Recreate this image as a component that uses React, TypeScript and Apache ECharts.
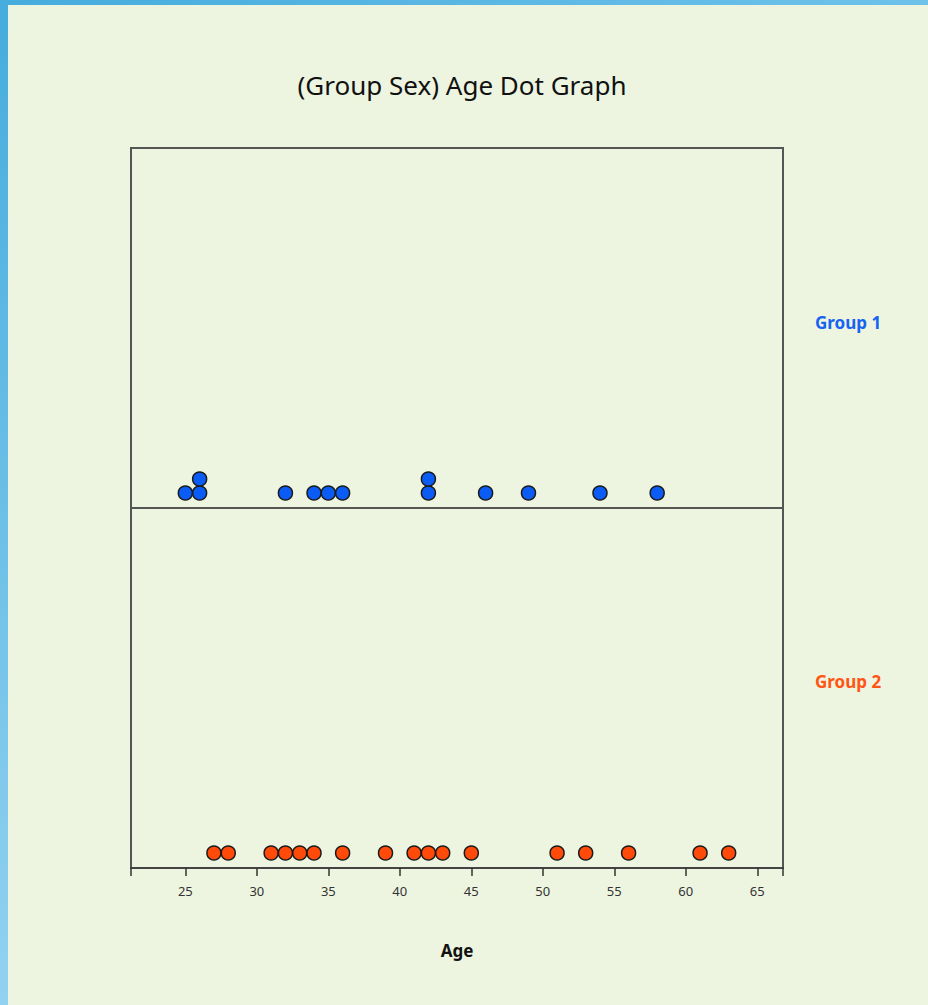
import React, { useEffect, useRef } from "react";
import * as echarts from "echarts";

const title = "(Group Sex) Age Dot Graph";
const axisName = "Age";
const groupNames = ["Group 1", "Group 2"];
const group1Ages = [25, 26, 26, 32, 34, 35, 36, 42, 42, 46, 49, 54, 58];
const group2Ages = [27, 28, 31, 32, 33, 34, 36, 39, 41, 42, 43, 45, 51, 53, 56, 61, 63];
const tickLabels = [25, 30, 35, 40, 45, 50, 55, 60, 65];
const xMin = 21.2;
const xMax = 66.8;

const fillColors = ["#0A5CF5", "#FF4A0A"];
const labelColors = ["#1763F2", "#FF5414"];

function stackPoints(ages: number[]) {
  const seen: Record<number, number> = {};
  return ages.map((a) => {
    const k = seen[a] || 0;
    seen[a] = k + 1;
    return [a, k];
  });
}

export default function App() {
  const ref = useRef<HTMLDivElement>(null);
  useEffect(() => {
    if (!ref.current) return;
    const chart = echarts.init(ref.current, null, { renderer: "svg" });
    const L = 131, W = 652, H = 360, T1 = 148, T2 = 508;
    const yMin = -15 / 14;
    const yMax = yMin + H / 14;
    const groups = [group1Ages, group2Ages];
    const xAxisBase = (gi: number, show: boolean) => ({
      type: "value",
      gridIndex: gi,
      min: xMin,
      max: xMax,
      show: true,
      splitLine: { show: false },
      axisLine: { show: show, onZero: false, lineStyle: { color: "#444", width: 2 } },
      axisTick: {
        show: show,
        length: 8,
        lineStyle: { color: "#333", width: 1.5 },
        customValues: [xMin, ...tickLabels, xMax],
      },
      axisLabel: {
        show: show,
        customValues: tickLabels,
        color: "#333",
        fontSize: 13,
        fontFamily: "Noto Sans",
        margin: 16,
      },
      name: show ? axisName : "",
      nameLocation: "middle",
      nameGap: 74,
      nameTextStyle: { fontSize: 17, fontWeight: "bold", color: "#111", fontFamily: "Noto Sans" },
    });
    chart.setOption({
      animation: false,
      backgroundColor: "#EDF5E0",
      title: {
        text: title,
        left: 457,
        textAlign: "center",
        top: 67,
        textStyle: { fontSize: 26, fontWeight: "normal", color: "#111", fontFamily: "Noto Sans" },
      },
      graphic: [
        {
          type: "rect",
          shape: { x: 0, y: 0, width: 928, height: 5 },
          style: {
            fill: new echarts.graphic.LinearGradient(0, 0, 1, 0, [
              { offset: 0, color: "#45ACDD" },
              { offset: 1, color: "#6EC2EA" },
            ]),
          },
        },
        {
          type: "rect",
          shape: { x: 0, y: 0, width: 8, height: 1005 },
          style: {
            fill: new echarts.graphic.LinearGradient(0, 0, 0, 1, [
              { offset: 0, color: "#45ACDD" },
              { offset: 1, color: "#92D2F0" },
            ]),
          },
        },
        ...groupNames.map((g, i) => ({
          type: "text",
          x: 815,
          y: i === 0 ? 322 : 681,
          style: {
            text: g,
            fill: labelColors[i],
            font: "bold 17px 'Noto Sans'",
            textVerticalAlign: "middle",
          },
        })),
      ],
      grid: [
        { left: L, top: T1, width: W, height: H, show: true, borderColor: "#555", borderWidth: 2, backgroundColor: "transparent" },
        { left: L, top: T2, width: W, height: H, show: true, borderColor: "#555", borderWidth: 2, backgroundColor: "transparent" },
      ],
      xAxis: [xAxisBase(0, false), xAxisBase(1, true)],
      yAxis: [0, 1].map((gi) => ({
        type: "value",
        gridIndex: gi,
        min: yMin,
        max: yMax,
        show: false,
        splitLine: { show: false },
      })),
      series: groups.map((ages, i) => ({
        type: "scatter",
        xAxisIndex: i,
        yAxisIndex: i,
        symbol: "circle",
        symbolSize: 14,
        itemStyle: { color: fillColors[i], borderColor: "#1a1a1a", borderWidth: 1.5, opacity: 1 },
        data: stackPoints(ages),
      })),
    });
    return () => chart.dispose();
  }, []);
  return (
    <div style={{ position: "fixed", left: 0, top: 0, width: 928, height: 1005 }}>
      <div ref={ref} style={{ width: 928, height: 1005 }} />
    </div>
  );
}
